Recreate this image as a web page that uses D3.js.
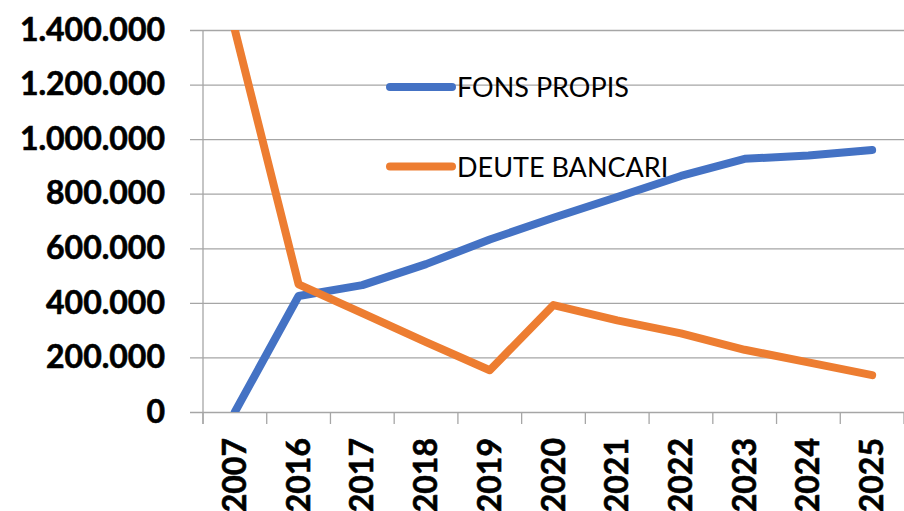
<!DOCTYPE html>
<html>
<head>
  <meta charset="utf-8">
  <script src="https://cdn.jsdelivr.net/npm/d3@7"></script>
  <style>
    body { margin: 0; background: #fff; }
    svg { display: block; }
  </style>
</head>
<body>
<script>
// data
var categories = ["2007", "2016", "2017", "2018", "2019", "2020", "2021", "2022", "2023", "2024", "2025"];
var fonsPropis = [0, 425000, 465000, 542000, 632000, 712000, 788000, 865000, 928000, 940000, 960000];
var deuteBancari = [1400000, 468000, 362000, 256000, 153000, 392000, 336000, 288000, 228000, 182000, 135000];
var yTicks = [0, 200000, 400000, 600000, 800000, 1000000, 1200000, 1400000];
var seriesNames = ["FONS PROPIS", "DEUTE BANCARI"];
var seriesColors = ["#4472C4", "#ED7D31"];

var W = 904, H = 511;
var margin = { top: 30, right: 0, bottom: 99, left: 203 },
    width = W - margin.left - margin.right,
    height = H - margin.top - margin.bottom;

var locale = d3.formatLocale({ decimal: ",", thousands: ".", grouping: [3], currency: ["", "€"] });
var fmt = locale.format(",d");

var x = d3.scaleBand().domain(categories).range([0, width]).padding(0);
var y = d3.scaleLinear().domain([0, 1400000]).range([height, 0]);

var svgRoot = d3.select("body").append("svg")
    .attr("width", W)
    .attr("height", H);

svgRoot.append("defs").append("clipPath")
    .attr("id", "plot-clip")
  .append("rect")
    .attr("x", 0).attr("y", 0)
    .attr("width", width).attr("height", height);

var svg = svgRoot.append("g")
    .attr("transform", "translate(" + margin.left + "," + margin.top + ")");

var grid = "#A6A6A6";
var boldFont = "Lato, 'Open Sans', sans-serif";

// horizontal gridlines + y labels
var yAxis = svg.append("g")
    .call(d3.axisLeft(y).tickValues(yTicks).tickFormat(fmt).tickSize(-width).tickPadding(38));
yAxis.select(".domain").remove();
yAxis.selectAll(".tick line")
    .attr("x1", -13)
    .attr("stroke", grid)
    .attr("stroke-width", 1.3);
yAxis.selectAll(".tick text")
    .attr("font-family", boldFont)
    .attr("font-weight", "bold")
    .attr("font-size", 32)
    .attr("fill", "#000")
    .attr("stroke", "#000")
    .attr("stroke-width", 0.6);

// vertical axis line
svg.append("line")
    .attr("x1", 0).attr("x2", 0)
    .attr("y1", 0).attr("y2", height + 12)
    .attr("stroke", grid)
    .attr("stroke-width", 1.3);

// x axis with ticks at category boundaries
var xAxis = svg.append("g")
    .attr("transform", "translate(0," + height + ")")
    .call(d3.axisBottom(x).tickSize(0).tickPadding(0));
xAxis.select(".domain").remove();
xAxis.selectAll(".tick text")
    .attr("font-family", boldFont)
    .attr("font-weight", "bold")
    .attr("font-size", 32)
    .attr("fill", "#000")
    .attr("stroke", "#000")
    .attr("stroke-width", 0.6)
    .attr("text-anchor", "end")
    .attr("dy", null)
    .attr("transform", "translate(11,26) rotate(-90)");

svg.append("g").selectAll("line")
    .data(categories.map(function(c) { return x(c); }).concat([width]))
  .enter().append("line")
    .attr("x1", function(d) { return d; })
    .attr("x2", function(d) { return d; })
    .attr("y1", height)
    .attr("y2", height + 12)
    .attr("stroke", grid)
    .attr("stroke-width", 1.3);

// lines
var line = d3.line()
    .x(function(d, i) { return x(categories[i]) + x.bandwidth() / 2; })
    .y(function(d) { return y(d); });

var lines = svg.append("g").attr("clip-path", "url(#plot-clip)");
[fonsPropis, deuteBancari].forEach(function(s, i) {
  lines.append("path")
      .datum(s)
      .attr("d", line)
      .attr("fill", "none")
      .attr("stroke", seriesColors[i])
      .attr("stroke-width", 8)
      .attr("stroke-linejoin", "round")
      .attr("stroke-linecap", "round");
});

// legend
var legend = svg.append("g").attr("transform", "translate(184,57)");
seriesNames.forEach(function(name, i) {
  var g = legend.append("g").attr("transform", "translate(0," + (i * 79.5) + ")");
  g.append("line")
      .attr("x1", 3).attr("x2", 65)
      .attr("y1", 0).attr("y2", 0)
      .attr("stroke", seriesColors[i])
      .attr("stroke-width", 8)
      .attr("stroke-linecap", "round");
  g.append("text")
      .attr("x", 70)
      .attr("y", 10)
      .attr("font-family", "Lato, 'Open Sans', sans-serif")
      .attr("font-size", 27)
      .attr("fill", "#000")
      .text(name);
});
</script>
</body>
</html>
